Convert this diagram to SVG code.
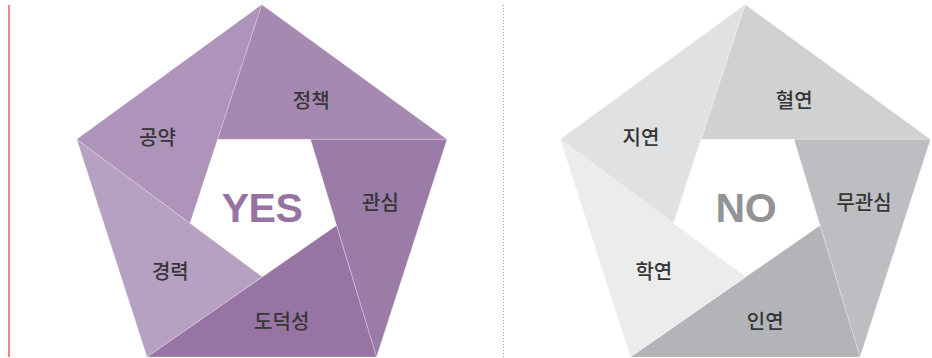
<svg xmlns="http://www.w3.org/2000/svg" width="932" height="358" viewBox="0 0 932 358">
  <style>
    .seg { stroke: #ffffff; stroke-opacity: 0.3; stroke-width: 0.8; stroke-linejoin: miter; }
    .lbl { font-family: "Noto Sans CJK KR", "Noto Sans", sans-serif; font-size: 20px; font-weight: 500; fill: #363636; text-anchor: middle; }
    .big { font-family: "Liberation Sans", Arial, sans-serif; font-size: 41px; font-weight: bold; text-anchor: middle; letter-spacing: -0.5px; }
  </style>
  <rect width="932" height="358" fill="#ffffff"/>
  <g id="separators">
    <line x1="9" y1="5" x2="9" y2="357" stroke="#f0857b" stroke-width="2"/>
    <line x1="503.5" y1="5" x2="503.5" y2="357" stroke="#a0a0a0" stroke-width="1" stroke-dasharray="1 2"/>
  </g>
  <g id="yes-pentagon">
    <g id="yes-policy">
      <polygon class="seg" fill="#a589b0" points="261.7,4.5 447,139.3 217.5,139.3"/>
      <text class="lbl" x="311.2" y="108">정책</text>
    </g>
    <g id="yes-interest">
      <polygon class="seg" fill="#9b7ba8" points="447,139.3 376.5,357 310.5,139.3"/>
      <text class="lbl" x="380.5" y="209.5">관심</text>
    </g>
    <g id="yes-morality">
      <polygon class="seg" fill="#9774a3" points="376.5,357 147,357 336.5,225.5"/>
      <text class="lbl" x="281.7" y="328.8">도덕성</text>
    </g>
    <g id="yes-career">
      <polygon class="seg" fill="#b6a1c3" points="147,357 76.7,139.3 262.3,276.8"/>
      <text class="lbl" x="170.3" y="279.2">경력</text>
    </g>
    <g id="yes-pledge">
      <polygon class="seg" fill="#ae94bb" points="76.7,139.3 261.7,4.5 190,223.3"/>
      <text class="lbl" x="157.5" y="145.3">공약</text>
    </g>
    <g id="yes-center">
      <text class="big" x="262" y="221.7" fill="#9673a3">YES</text>
    </g>
  </g>
  <g id="no-pentagon">
    <g id="no-blood">
      <polygon class="seg" fill="#d0d1d3" points="745.2,4.5 930.5,139.3 701,139.3"/>
      <text class="lbl" x="794.2" y="108">혈연</text>
    </g>
    <g id="no-indifference">
      <polygon class="seg" fill="#bdbec1" points="930.5,139.3 860,357 794,139.3"/>
      <text class="lbl" x="864" y="209.5">무관심</text>
    </g>
    <g id="no-connection">
      <polygon class="seg" fill="#b3b4b7" points="860,357 630.5,357 820,225.5"/>
      <text class="lbl" x="765.2" y="328.8">인연</text>
    </g>
    <g id="no-school">
      <polygon class="seg" fill="#ececed" points="630.5,357 560.2,139.3 745.8,276.8"/>
      <text class="lbl" x="653.8" y="279.2">학연</text>
    </g>
    <g id="no-region">
      <polygon class="seg" fill="#e0e1e3" points="560.2,139.3 745.2,4.5 673.5,223.3"/>
      <text class="lbl" x="641" y="145.3">지연</text>
    </g>
    <g id="no-center">
      <text class="big" x="745.8" y="221.7" fill="#929396">NO</text>
    </g>
  </g>
</svg>
